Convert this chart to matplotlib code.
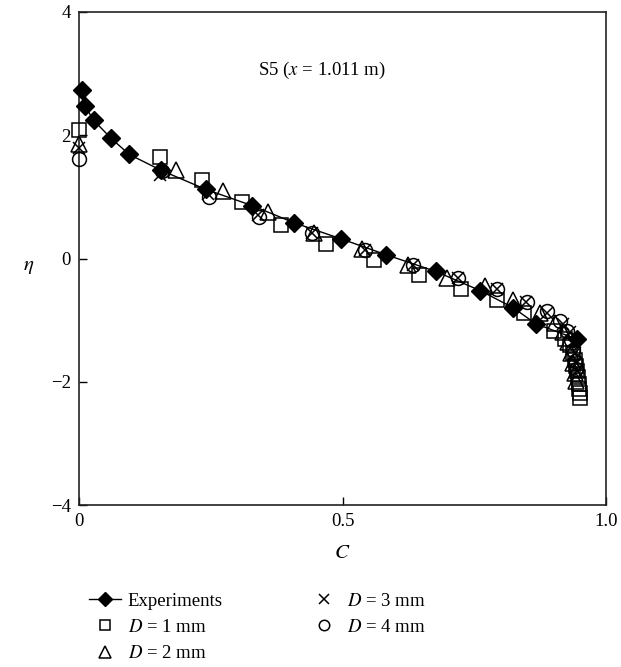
import matplotlib
matplotlib.use("Agg")
import matplotlib.pyplot as plt

plt.rcParams['font.family'] = ['Liberation Serif', 'DejaVu Serif']
plt.rcParams['mathtext.fontset'] = 'stix'

# Experiments (filled diamonds with line)
exp_C = [0.006, 0.011, 0.028, 0.061, 0.095, 0.156, 0.241, 0.328, 0.408, 0.497,
         0.583, 0.677, 0.761, 0.824, 0.867, 0.945]
exp_eta = [2.74, 2.48, 2.24, 1.95, 1.69, 1.43, 1.12, 0.86, 0.58, 0.32,
           0.06, -0.21, -0.52, -0.80, -1.06, -1.31]

# D = 1 mm (squares)
d1_C = [0.0, 0.154, 0.233, 0.309, 0.383, 0.469, 0.560, 0.645, 0.725, 0.793, 0.844,
        0.901, 0.922, 0.932, 0.937, 0.941, 0.943, 0.945, 0.947, 0.949, 0.949, 0.951, 0.951]
d1_eta = [2.08, 1.64, 1.27, 0.91, 0.55, 0.24, -0.03, -0.27, -0.49, -0.68, -0.89,
          -1.17, -1.30, -1.41, -1.53, -1.64, -1.74, -1.83, -1.93, -2.03, -2.11, -2.19, -2.26]

# D = 2 mm (triangles)
d2_C = [0.0, 0.184, 0.273, 0.359, 0.446, 0.537, 0.624, 0.698, 0.770, 0.824, 0.875,
        0.903, 0.918, 0.928, 0.934, 0.937, 0.941, 0.943]
d2_eta = [1.85, 1.43, 1.10, 0.75, 0.42, 0.15, -0.10, -0.31, -0.44, -0.67, -0.88,
          -1.04, -1.20, -1.36, -1.53, -1.69, -1.85, -1.98]

# D = 3 mm (crosses)
d3_C = [0.0, 0.154, 0.245, 0.340, 0.442, 0.543, 0.634, 0.719, 0.793, 0.848, 0.888,
        0.918, 0.932, 0.937, 0.941, 0.943, 0.945]
d3_eta = [1.80, 1.35, 1.04, 0.70, 0.42, 0.13, -0.10, -0.32, -0.50, -0.71, -0.89,
          -1.06, -1.20, -1.36, -1.53, -1.69, -1.82]

# D = 4 mm (circles)
d4_C = [0.0, 0.157, 0.247, 0.342, 0.442, 0.543, 0.634, 0.719, 0.793, 0.850, 0.888,
        0.913, 0.926, 0.934, 0.937, 0.941, 0.943]
d4_eta = [1.61, 1.42, 0.99, 0.67, 0.41, 0.13, -0.10, -0.32, -0.50, -0.70, -0.85,
          -1.01, -1.17, -1.33, -1.49, -1.66, -1.79]

x_ticks = [0, 0.5, 1.0]
x_ticklabels = ['0', '0.5', '1.0']
y_ticks = [-4, -2, 0, 2, 4]
y_ticklabels = ['\u22124', '\u22122', '0', '2', '4']

fig = plt.figure(figsize=(6.21, 6.67), dpi=100)
ax = fig.add_axes([79 / 621, 1 - 505 / 667, 527 / 621, 493 / 667])

ms = 10
mew = 1.1
ax.plot(d1_C, d1_eta, linestyle='none', marker='s', ms=ms, mfc='none', mec='black', mew=mew,
        label='$D$ = 1 mm', zorder=3, clip_on=False)
ax.plot(d2_C, d2_eta, linestyle='none', marker='^', ms=ms + 1, mfc='none', mec='black', mew=mew,
        label='$D$ = 2 mm', zorder=3, clip_on=False)
ax.plot(d3_C, d3_eta, linestyle='none', marker='x', ms=ms - 1, mfc='none', mec='black', mew=mew,
        label='$D$ = 3 mm', zorder=3, clip_on=False)
ax.plot(d4_C, d4_eta, linestyle='none', marker='o', ms=ms, mfc='none', mec='black', mew=mew,
        label='$D$ = 4 mm', zorder=3, clip_on=False)
ax.plot(exp_C, exp_eta, color='black', lw=1.0, marker='D', ms=ms - 1, mfc='black', mec='black',
        label='Experiments', zorder=4, clip_on=False)

ax.set_xlim(0, 1.0)
ax.set_ylim(-4, 4)
ax.set_xticks(x_ticks)
ax.set_xticklabels(x_ticklabels)
ax.set_yticks(y_ticks)
ax.set_yticklabels(y_ticklabels)
ax.tick_params(direction='in', length=6, width=1, labelsize=13.5, pad=6)
for s in ax.spines.values():
    s.set_linewidth(1.2)
    s.set_color('#222222')

ax.set_xlabel('$C$', fontsize=15, labelpad=10)
ax.set_ylabel('$\\eta$', fontsize=15, rotation=0, labelpad=22)
ax.yaxis.set_label_coords(-0.095, 0.465)

ax.text(0.461, 3.05, 'S5 ($x$ = 1.011 m)', fontsize=13.5, ha='center', va='center')

handles, labels = ax.get_legend_handles_labels()
order = [4, 0, 1, 2, 3]
handles = [handles[i] for i in order]
labels = [labels[i] for i in order]
fig.legend(handles, labels, loc='upper left', bbox_to_anchor=(80 / 621, 1 - 583 / 667),
           ncol=2, frameon=False, fontsize=13.5, markerscale=0.75, handlelength=1.7,
           handletextpad=0.35, columnspacing=4.55, labelspacing=0.5, borderpad=0)

fig.savefig('out.png', dpi=100)
